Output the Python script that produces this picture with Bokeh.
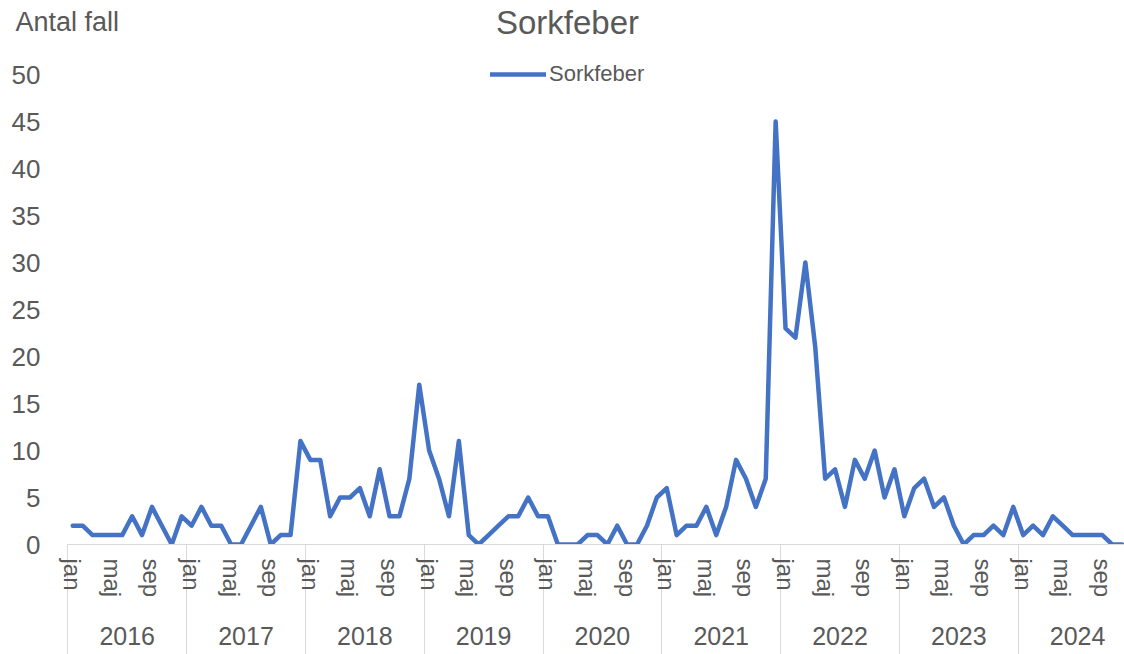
from bokeh.plotting import figure
from bokeh.models import Range1d, FixedTicker, LinearAxis, Label, Legend, LegendItem
from bokeh.embed import file_html
from bokeh.resources import INLINE

# ---- data ----
years = ["2016", "2017", "2018", "2019", "2020", "2021", "2022", "2023", "2024"]
month_names = ["jan", "feb", "mar", "apr", "maj", "jun", "jul", "aug", "sep", "okt", "nov", "dec"]
shown_months = ["jan", "maj", "sep"]

cases_2016 = [2, 2, 1, 1, 1, 1, 3, 1, 4, 2, 0, 3]
cases_2017 = [2, 4, 2, 2, 0, 0, 2, 4, 0, 1, 1, 11]
cases_2018 = [9, 9, 3, 5, 5, 6, 3, 8, 3, 3, 7, 17]
cases_2019 = [10, 7, 3, 11, 1, 0, 1, 2, 3, 3, 5, 3]
cases_2020 = [3, 0, 0, 0, 1, 1, 0, 2, 0, 0, 2, 5]
cases_2021 = [6, 1, 2, 2, 4, 1, 4, 9, 7, 4, 7, 45]
cases_2022 = [23, 22, 30, 21, 7, 8, 4, 9, 7, 10, 5, 8]
cases_2023 = [3, 6, 7, 4, 5, 2, 0, 1, 1, 2, 1, 4]
cases_2024 = [1, 2, 1, 3, 2, 1, 1, 1, 1, 0, 0]

y_ticks = [0, 5, 10, 15, 20, 25, 30, 35, 40, 45, 50]

values = (cases_2016 + cases_2017 + cases_2018 + cases_2019 + cases_2020
          + cases_2021 + cases_2022 + cases_2023 + cases_2024)
month_index = list(range(len(values)))

GRAY = "#595959"
LIGHT = "#D9D9D9"
BLUE = "#4472C4"
FONT = "Liberation Sans"

# layout (pixels)
W, H = 1124, 654
AXIS_LEFT = 67.3       # x of first category boundary
MONTH_PX = 9.9         # width of one month category
ZERO_Y = 544           # y of value 0
TOP_Y = 74             # y of value 50
BOTTOM = H - ZERO_Y
n_years = len(years)
n_months = 12 * n_years

x0 = -0.5 - AXIS_LEFT / MONTH_PX
x1 = -0.5 + (W - AXIS_LEFT) / MONTH_PX
y1 = max(y_ticks) * ZERO_Y / (ZERO_Y - TOP_Y)

p = figure(width=W, height=H, output_backend="svg", toolbar_location=None,
           x_range=Range1d(x0, x1), y_range=Range1d(0, y1),
           min_border_left=0, min_border_right=0, min_border_top=0, min_border_bottom=BOTTOM,
           x_axis_location=None, y_axis_location=None)
p.outline_line_color = None
p.xgrid.visible = False
p.ygrid.visible = False
p.background_fill_color = "white"
p.border_fill_color = "white"

# y axis (labels drawn inward over the left margin)
yax = LinearAxis(ticker=FixedTicker(ticks=y_ticks))
yax.axis_line_color = None
yax.major_tick_line_color = None
yax.minor_tick_line_color = None
yax.major_tick_out = 0
yax.major_tick_in = 0
yax.major_label_standoff = -40
yax.major_label_text_font = FONT
yax.major_label_text_font_size = "26px"
yax.major_label_text_color = GRAY
p.add_layout(yax, "left")

# month axis; group separators drawn as long minor ticks
month_ticks = []
month_over = {}
for i in range(n_years):
    for mn in shown_months:
        t = 12 * i + month_names.index(mn)
        month_ticks.append(t)
        month_over[t] = mn
separators = [12 * i - 0.5 for i in range(n_years + 1)]
max_ = LinearAxis(ticker=FixedTicker(ticks=month_ticks, minor_ticks=separators),
                  bounds=(-0.5, n_months - 0.5))
max_.major_label_overrides = month_over
max_.major_label_orientation = "vertical"
max_.major_tick_line_color = None
max_.major_tick_out = 0
max_.major_tick_in = 0
max_.minor_tick_out = BOTTOM
max_.minor_tick_in = 0
max_.minor_tick_line_color = LIGHT
max_.minor_tick_line_width = 1
max_.axis_line_color = LIGHT
max_.axis_line_width = 1
max_.major_label_standoff = 14 - BOTTOM
max_.major_label_text_font = FONT
max_.major_label_text_font_size = "24px"
max_.major_label_text_color = GRAY
p.add_layout(max_, "below")

# year axis
year_ticks = [12 * i + 5.5 for i in range(n_years)]
yr_ax = LinearAxis(ticker=FixedTicker(ticks=year_ticks))
yr_ax.major_label_overrides = {t: y for t, y in zip(year_ticks, years)}
yr_ax.axis_line_color = None
yr_ax.major_tick_line_color = None
yr_ax.minor_tick_line_color = None
yr_ax.major_tick_out = 0
yr_ax.major_tick_in = 0
yr_ax.major_label_standoff = 26
yr_ax.major_label_text_font = FONT
yr_ax.major_label_text_font_size = "25px"
yr_ax.major_label_text_color = GRAY
p.add_layout(yr_ax, "below")

r = p.line(month_index, values, line_color=BLUE, line_width=4.5, line_join="round", line_cap="round")

legend = Legend(items=[LegendItem(label="Sorkfeber", renderers=[r])],
                location=(490, ZERO_Y - 75 - 12), orientation="horizontal",
                glyph_width=56, glyph_height=20, label_standoff=3,
                padding=0, spacing=0, margin=0,
                border_line_color=None, background_fill_alpha=0,
                label_text_font=FONT, label_text_font_size="22px",
                label_text_color=GRAY)
p.add_layout(legend, "center")

title = Label(x=567, y=ZERO_Y - 22, x_units="screen", y_units="screen", text="Sorkfeber",
              text_align="center", text_baseline="middle",
              text_font=FONT, text_font_size="33px", text_color=GRAY)
p.add_layout(title)
ylab = Label(x=15, y=ZERO_Y - 21, x_units="screen", y_units="screen", text="Antal fall",
             text_align="left", text_baseline="middle",
             text_font=FONT, text_font_size="27px", text_color=GRAY)
p.add_layout(ylab)

open("out.html", "w").write(file_html(p, INLINE))
